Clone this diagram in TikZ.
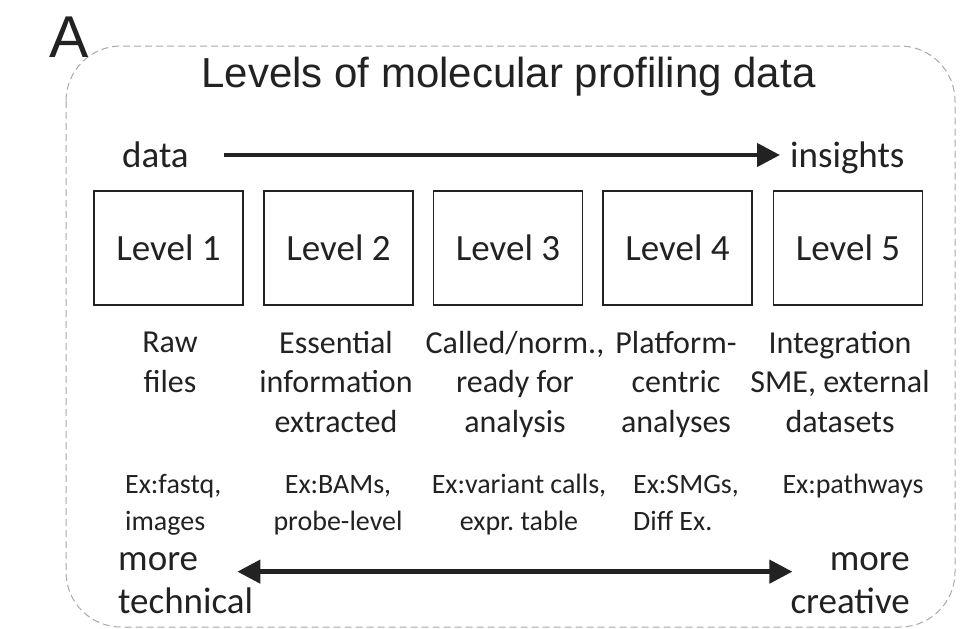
\documentclass[tikz,border=0pt]{standalone}
\usepackage{fontspec}
\setmainfont{Carlito}
\newfontfamily\arialfont{Liberation Sans}
\usetikzlibrary{arrows.meta}
\frenchspacing
\definecolor{ink}{HTML}{222222}
\definecolor{framegray}{HTML}{A8A8A8}
\tikzset{
  levelbox/.style={draw=ink, line width=1.8pt, minimum width=149pt, minimum height=114pt, inner sep=0pt, text=ink, font=\fontsize{37}{44}\selectfont},
  desc/.style={align=center, anchor=base, inner sep=0pt, text=ink, font=\fontsize{32}{39.5}\selectfont},
  example/.style={align=center, anchor=base, inner sep=0pt, text=ink, font=\fontsize{28}{37}\selectfont},
  endlabel/.style={inner sep=0pt, text=ink, font=\fontsize{37}{43}\selectfont},
  bigarrow/.style={draw=ink, line width=4.4pt, -{Triangle[length=23pt,width=23pt]}},
  twoway/.style={draw=ink, line width=4.4pt, {Triangle[length=23pt,width=23pt]}-{Triangle[length=23pt,width=23pt]}},
}
\begin{document}
\begin{tikzpicture}[x=1pt,y=-1pt]
\useasboundingbox (0,0) rectangle (978,629);
\draw[framegray, line width=1pt, dash pattern=on 7pt off 4pt, rounded corners=55pt] (66,46) rectangle (955,627);
\node[inner sep=0pt, anchor=base west, text=ink, font=\arialfont\fontsize{59}{70}\selectfont] (panel) at (49,57) {A};
\node[inner sep=0pt, anchor=base, text=ink, font=\arialfont\fontsize{42}{50}\selectfont] (title) at (508.5,87) {Levels of molecular profiling data};
% data to insights
\node[endlabel, text height=28pt, text depth=4pt, anchor=base west] (data) at (122,167) {data};
\node[endlabel, text height=28pt, text depth=4pt, anchor=base west] (insights) at (790,167) {insights};
\draw[bigarrow, shorten <=35pt, shorten >=10pt] (data) -- (insights);
% the five levels
\node[levelbox] (L1) at (168.5,248) {Level 1};
\node[levelbox] (L2) at (338.5,248) {Level 2};
\node[levelbox] (L3) at (508,248) {Level 3};
\node[levelbox] (L4) at (677.5,248) {Level 4};
\node[levelbox] (L5) at (848,248) {Level 5};
\node[desc] (d1) at (170,392) {Raw\\files};
\node[desc] (d2) at (336,432) {Essential\\information\\extracted};
\node[desc] (d3) at (515,432) {Called/norm.,\\ready for\\analysis};
\node[desc] (d4) at (676,432) {Platform-\\centric\\analyses};
\node[desc] (d5) at (840,432) {Integration\\SME, external\\datasets};
\node[example, align=left, anchor=base west] (e1) at (125,530) {Ex:fastq,\\images};
\node[example] (e2) at (338,530) {Ex:BAMs,\\probe-level};
\node[example] (e3) at (519,530) {Ex:variant calls,\\expr. table};
\node[example, align=left, anchor=base west] (e4) at (633,530) {Ex:SMGs,\\Diff Ex.};
\node[example] (e5) at (853,493) {Ex:pathways};
% technical to creative
\node[endlabel, align=left, anchor=base west] (tech) at (118,613) {more\\technical};
\node[endlabel, align=right, anchor=base east] (crea) at (910,613) {more\\creative};
\draw[twoway] ([shift={(-16pt,11pt)}]tech.east) -- ([shift={(2pt,11pt)}]crea.west);
\end{tikzpicture}
\end{document}
